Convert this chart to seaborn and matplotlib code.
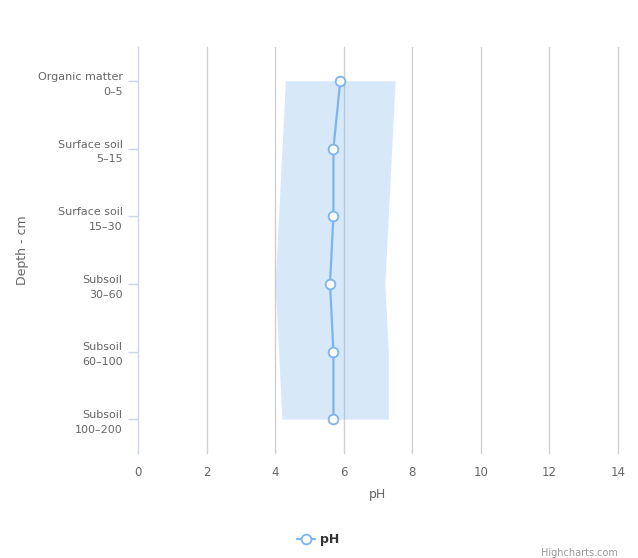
import matplotlib
matplotlib.use("Agg")
import matplotlib.pyplot as plt
import matplotlib.transforms as mtransforms
import seaborn as sns
import pandas as pd
import numpy as np

# Soil profile: pH per depth layer, with low/high range
layers = ["Organic matter\n0\u20135", "Surface soil\n5\u201315", "Surface soil\n15\u201330",
          "Subsoil\n30\u201360", "Subsoil\n60\u2013100", "Subsoil\n100\u2013200"]
ph_mean = [5.9, 5.7, 5.7, 5.6, 5.7, 5.7]
ph_low = [4.3, 4.2, 4.1, 4.0, 4.1, 4.2]
ph_high = [7.5, 7.4, 7.3, 7.2, 7.3, 7.3]
x_ticks = [0, 2, 4, 6, 8, 10, 12, 14]

sns.set_theme(style="white")
plt.rcParams["font.family"] = ["DejaVu Sans"]

LINE = "#7cb5ec"
TEXT = "#666666"

df = pd.DataFrame({"layer": layers, "pos": np.arange(len(layers)),
                   "pH": ph_mean, "low": ph_low, "high": ph_high})

fig = plt.figure(figsize=(6.38, 5.58), dpi=100)
ax = fig.add_axes([138 / 638, 1 - 453 / 558, 480 / 638, 406 / 558])

# range band
ax.fill_betweenx(df["pos"], df["low"], df["high"], color=LINE, alpha=0.3,
                 linewidth=0, zorder=1)

sns.lineplot(data=df, x="pH", y="pos", orient="y", sort=False, ax=ax,
             color=LINE, linewidth=1.6, marker="o", markersize=7,
             markerfacecolor="white", markeredgecolor=LINE, markeredgewidth=1.3,
             zorder=3)

ax.set_xlim(0, 14)
ax.set_ylim(len(layers) - 0.5, -0.5)
ax.set_xticks(x_ticks)
ax.set_xticklabels([str(t) for t in x_ticks], color=TEXT, fontsize=8.5)
ax.set_yticks(df["pos"])
ax.set_yticklabels(layers, color=TEXT, fontsize=8, ha="right",
                   multialignment="right", linespacing=1.6)
# nudge the two-line category labels slightly upward
lift = mtransforms.ScaledTranslation(0, 3 / 100, fig.dpi_scale_trans)
for lbl in ax.get_yticklabels():
    lbl.set_transform(lbl.get_transform() + lift)

ax.grid(axis="y", visible=False)
ax.set_axisbelow(True)
# vertical grid lines at each pH tick (the last one sits on the right edge)
for t in x_ticks[1:]:
    ax.axvline(t, color="#d0d0d0", linewidth=1, zorder=0, clip_on=False)
for side in ["top", "right", "bottom"]:
    ax.spines[side].set_visible(False)
ax.spines["left"].set_color("#ccd6eb")
ax.spines["left"].set_linewidth(1)

ax.tick_params(axis="y", which="major", length=7.5, width=1, color="#ccd6eb",
               left=True, pad=3.5)
ax.tick_params(axis="x", length=0, pad=9)

ax.set_xlabel("pH", color=TEXT, fontsize=9, labelpad=7)
ax.set_ylabel("Depth - cm", color=TEXT, fontsize=9)
ax.yaxis.set_label_coords(-(138 - 29) / 480, 0.5)

# legend entry
fig.legend(handles=[plt.Line2D([], [], color=LINE, linewidth=1.6, marker="o",
                               markersize=7, markerfacecolor="white",
                               markeredgecolor=LINE, markeredgewidth=1.3)],
           labels=["pH"], loc="center", bbox_to_anchor=(318 / 638, 1 - 540 / 558),
           frameon=False, handlelength=1.4, handletextpad=0.4,
           prop={"weight": "bold", "size": 9})
for t in fig.legends[0].get_texts():
    t.set_color("#333333")

fig.text(618 / 638, 1 - 553 / 558, "Highcharts.com", ha="right", va="center",
         fontsize=7, color="#999999")

fig.savefig("out.png", dpi=100, facecolor="white")
